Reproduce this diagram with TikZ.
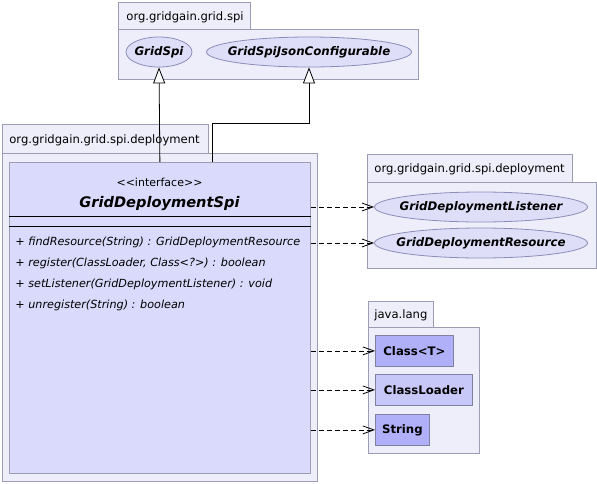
\documentclass[tikz,border=0pt]{standalone}
\usepackage{fontspec}
\setmainfont{DejaVu Sans}
\usepackage{tikz}
\usetikzlibrary{arrows.meta,shapes.geometric,positioning}
\usepackage{xcolor}
\definecolor{pkgfill}{RGB}{238,238,250}
\definecolor{pkgline}{RGB}{156,156,180}
\definecolor{clsfill}{RGB}{218,218,252}
\definecolor{ellfill}{RGB}{222,222,248}
\definecolor{ellline}{RGB}{140,140,185}
\definecolor{boxdark}{RGB}{176,176,248}
\definecolor{boxlight}{RGB}{200,200,248}
\definecolor{boxline}{RGB}{128,128,160}
\newcommand{\ellname}[1]{\makebox[0pt]{#1}}
\tikzstyle{pkgtab} = [rectangle, draw=pkgline, fill=pkgfill, anchor=north west, inner sep=0pt, text depth=0pt, font=\fontsize{11.6}{14}\selectfont]
\tikzstyle{pkgbody} = [rectangle, draw=pkgline, fill=pkgfill, anchor=north west, inner sep=0pt]
\tikzstyle{iface} = [ellipse, draw=ellline, fill=ellfill, inner sep=0pt, minimum height=30pt, font=\fontsize{11.8}{13}\selectfont\bfseries\itshape]
\tikzstyle{klass} = [rectangle, draw=boxline, anchor=north west, inner sep=0pt, minimum height=31pt, font=\fontsize{11.7}{13}\selectfont\bfseries]
\tikzstyle{method} = [anchor=west, inner sep=0pt, font=\fontsize{11.2}{13}\selectfont\itshape]
\tikzstyle{extends} = [-{Triangle[fill=white, length=16pt, width=12pt]}, black]
\tikzstyle{uses} = [dash pattern=on 5pt off 3pt, -{Straight Barb[length=11pt, width=8pt]}, black]

\begin{document}
\begin{tikzpicture}[x=1pt, y=-1pt, line width=0.8pt]
\useasboundingbox (0,0) rectangle (597,483);
% package org.gridgain.grid.spi
\node[pkgtab, minimum width=132pt, minimum height=27pt, text width=116pt, align=left] (spitab) at (118,2) {org.gridgain.grid.spi};
\node[pkgbody, minimum width=300pt, minimum height=50pt] (spibody) at (118,29) {};
\node[iface, minimum width=66pt] (gspi) at (159,52) {\ellname{GridSpi}};
\node[iface, minimum width=205pt] (gjson) at (309,52) {\ellname{GridSpiJsonConfigurable}};

% package org.gridgain.grid.spi.deployment (left)
\node[pkgtab, minimum width=206pt, minimum height=29pt, text width=192pt, align=left] (deptab) at (2,124) {org.gridgain.grid.spi.deployment};
\node[pkgbody, minimum width=315pt, minimum height=328pt] (depbody) at (2,153) {};
\node[pkgbody, draw=pkgline, fill=clsfill, minimum width=301pt, minimum height=311pt] (cls) at (9,162) {};
\node[font=\fontsize{11}{12}\selectfont] (stereo) at (159.5,182) {{<}{<}interface{>}{>}};
\node[font=\fontsize{14.6}{17}\selectfont\bfseries\itshape] (clsname) at (159.5,204) {GridDeploymentSpi};
\draw (cls.west |- 0,216) -- (cls.east |- 0,216);
\draw (cls.west |- 0,226) -- (cls.east |- 0,226);
\node[method] (m1) at (15,242) {+ findResource(String) : GridDeploymentResource};
\node[method] (m2) at (15,263) {+ register(ClassLoader, Class<?>) : boolean};
\node[method] (m3) at (15,284) {+ setListener(GridDeploymentListener) : void};
\node[method] (m4) at (15,305) {+ unregister(String) : boolean};

% package org.gridgain.grid.spi.deployment (right)
\node[pkgtab, minimum width=205pt, minimum height=28pt, text width=191pt, align=left] (dep2tab) at (367,154) {org.gridgain.grid.spi.deployment};
\node[pkgbody, minimum width=229pt, minimum height=86pt] (dep2body) at (367,182) {};
\node[iface, minimum width=213pt] (lis) at (481,207) {\ellname{GridDeploymentListener}};
\node[iface, minimum width=213pt] (res) at (481,243) {\ellname{GridDeploymentResource}};

% package java.lang
\node[pkgtab, minimum width=65pt, minimum height=26pt, text width=53pt, align=left] (langtab) at (368,301) {java.lang};
\node[pkgbody, minimum width=111pt, minimum height=126pt] (langbody) at (368,327) {};
\node[klass, fill=boxdark, minimum width=78pt] (cl) at (375,335) {Class<T>};
\node[klass, fill=boxlight, minimum width=97pt] (ldr) at (375,374) {ClassLoader};
\node[klass, fill=boxdark, minimum width=54pt] (str) at (375,414) {String};

% inheritance
\draw[extends] (cls.north) -- (gspi.south);
\draw[extends] ([xshift=52.5pt]cls.north) -- ++(0,-39) -| (gjson.south);

% dependencies
\draw[uses] (cls.east |- lis) -- (lis.west);
\draw[uses] (cls.east |- res) -- (res.west);
\draw[uses] (cls.east |- cl) -- (cl.west);
\draw[uses] (cls.east |- ldr) -- (ldr.west);
\draw[uses] (cls.east |- str) -- (str.west);
\end{tikzpicture}
\end{document}
